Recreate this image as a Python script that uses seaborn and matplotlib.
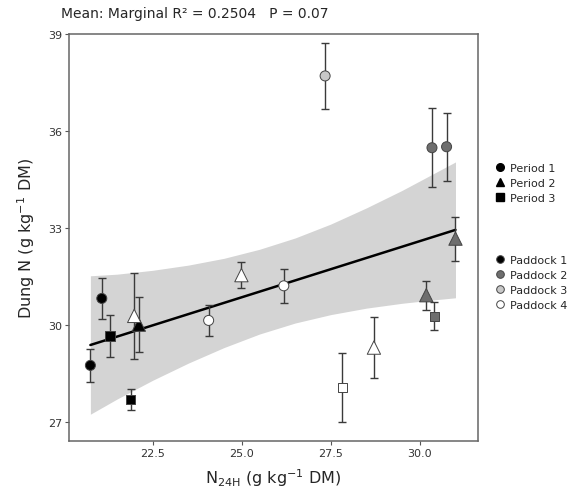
import pandas as pd
import seaborn as sns
import matplotlib.pyplot as plt
from matplotlib.lines import Line2D

# points
period = ['Period 1', 'Period 1', 'Period 3', 'Period 3', 'Period 2',
          'Period 2', 'Period 2', 'Period 2', 'Period 1', 'Period 1', 'Period 3',
          'Period 1', 'Period 1', 'Period 1', 'Period 2', 'Period 2', 'Period 3']
paddock = ['Paddock 1', 'Paddock 1', 'Paddock 1', 'Paddock 1', 'Paddock 1',
           'Paddock 4', 'Paddock 4', 'Paddock 4', 'Paddock 4', 'Paddock 4', 'Paddock 4',
           'Paddock 3', 'Paddock 2', 'Paddock 2', 'Paddock 2', 'Paddock 2', 'Paddock 2']
n24h = [20.75, 21.07, 21.30, 21.88, 22.11,
        21.98, 24.99, 28.71, 24.07, 26.18, 27.82,
        27.34, 30.34, 30.75, 31.00, 30.18, 30.40]
dung_n = [28.76, 30.83, 29.67, 27.71, 30.02,
          30.29, 31.55, 29.31, 30.15, 31.22, 28.08,
          37.71, 35.49, 35.52, 32.68, 30.93, 30.28]
err = [0.50, 0.63, 0.65, 0.33, 0.86,
       1.33, 0.40, 0.95, 0.47, 0.52, 1.07,
       1.02, 1.22, 1.05, 0.68, 0.45, 0.43]

# fitted line and its band
fit_x = [20.75, 31.0]
fit_y = [29.39, 32.95]
band_x = [20.75, 21.5, 22.5, 23.5, 24.5, 25.5, 26.5, 27.5, 28.5, 29.5, 30.25, 31.0]
band_lo = [27.25, 27.72, 28.30, 28.83, 29.31, 29.73, 30.07, 30.33, 30.53, 30.68, 30.77, 30.85]
band_hi = [31.53, 31.58, 31.70, 31.86, 32.07, 32.35, 32.70, 33.13, 33.63, 34.17, 34.61, 35.05]

periods = ['Period 1', 'Period 2', 'Period 3']
paddocks = ['Paddock 1', 'Paddock 2', 'Paddock 3', 'Paddock 4']

df = pd.DataFrame({'period': period, 'paddock': paddock,
                   'x': n24h, 'y': dung_n, 'err': err})

sns.set_style('ticks')
plt.rcParams['font.family'] = ['DejaVu Sans']

fig = plt.figure(figsize=(5.8, 4.89), dpi=100)
ax = fig.add_axes([0.119, 0.096, 0.705, 0.832])

ax.fill_between(band_x, band_lo, band_hi, color='#d4d4d4', lw=0, zorder=1)
sns.lineplot(x=fit_x, y=fit_y, color='black', lw=1.8, ax=ax, zorder=2)
ax.errorbar(df['x'], df['y'], yerr=df['err'], fmt='none', ecolor='#3a3a3a',
            elinewidth=1, capsize=3, capthick=1, zorder=3)

pal = {'Paddock 1': '#000000', 'Paddock 2': '#6e6e6e',
       'Paddock 3': '#c8c8c8', 'Paddock 4': '#ffffff'}
mk = {'Period 1': 'o', 'Period 2': '^', 'Period 3': 's'}
sz = {'Period 1': 52, 'Period 2': 92, 'Period 3': 44}
sns.scatterplot(data=df, x='x', y='y', hue='paddock', style='period',
                size='period', sizes=sz, markers=mk, palette=pal,
                edgecolor='#444444', linewidth=0.7, legend=False, ax=ax, zorder=4)

ax.set_xlim(20.15, 31.63)
ax.set_ylim(26.42, 39.0)
ax.set_xticks([22.5, 25.0, 27.5, 30.0])
ax.set_xticklabels(['22.5', '25.0', '27.5', '30.0'])
ax.set_yticks([27, 30, 33, 36, 39])
ax.tick_params(axis='both', labelsize=8, length=3, width=0.8, color='#555555',
               labelcolor='#333333', pad=2)
for s in ax.spines.values():
    s.set_visible(True)
    s.set_color('#666666')
    s.set_linewidth(1.1)

ax.set_xlabel('N$_{\\mathrm{24H}}$ (g kg$^{-1}$ DM)', fontsize=11.5, labelpad=6)
ax.set_ylabel('Dung N (g kg$^{-1}$ DM)', fontsize=11.5, labelpad=8)
fig.text(0.105, 0.972, 'Mean: Marginal R² = 0.2504   P = 0.07', fontsize=10, va='center')

h1 = [Line2D([], [], marker=mk[p], color='black', ls='', markersize=5.5) for p in periods]
fig.legend(h1, periods, loc='upper left', bbox_to_anchor=(0.836, 0.685),
           frameon=False, fontsize=8, handletextpad=0.4, labelspacing=0.45,
           handlelength=1.0)
h2 = [Line2D([], [], marker='o', markerfacecolor=pal[p], markeredgecolor='#444444',
             color='black', ls='', markersize=5.5, markeredgewidth=0.7) for p in paddocks]
fig.legend(h2, paddocks, loc='upper left', bbox_to_anchor=(0.836, 0.497),
           frameon=False, fontsize=8, handletextpad=0.4, labelspacing=0.45,
           handlelength=1.0)

fig.savefig('out.png', dpi=100)
